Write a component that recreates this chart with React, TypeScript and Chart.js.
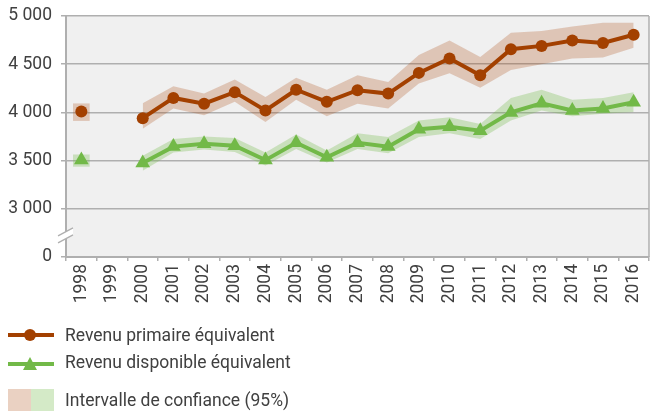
import React, { useEffect, useRef } from "react";
import { Chart, registerables } from "chart.js";

Chart.register(...registerables);

const years = ["1998", "1999", "2000", "2001", "2002", "2003", "2004", "2005", "2006", "2007", "2008", "2009", "2010", "2011", "2012", "2013", "2014", "2015", "2016"];
const primary = [4010, null, 3940, 4150, 4090, 4210, 4020, 4235, 4110, 4230, 4195, 4410, 4560, 4385, 4655, 4690, 4745, 4720, 4805];
const primaryHigh = [4090, null, 4095, 4270, 4195, 4340, 4160, 4360, 4235, 4385, 4315, 4595, 4745, 4575, 4825, 4845, 4890, 4930, 4930];
const primaryLow = [3915, null, 3830, 4040, 3970, 4110, 3900, 4130, 3960, 4090, 4040, 4300, 4405, 4255, 4440, 4500, 4560, 4570, 4670];
const disposable = [3505, null, 3475, 3645, 3675, 3655, 3505, 3685, 3535, 3685, 3645, 3825, 3850, 3810, 4000, 4095, 4020, 4040, 4105];
const disposableHigh = [3560, null, 3550, 3725, 3750, 3735, 3585, 3770, 3605, 3785, 3745, 3915, 3950, 3880, 4150, 4235, 4130, 4150, 4210];
const disposableLow = [3440, null, 3395, 3585, 3615, 3590, 3450, 3620, 3480, 3620, 3575, 3745, 3785, 3725, 3915, 4020, 3960, 3985, 4005];
const yTicks = [2500, 3000, 3500, 4000, 4500, 5000];
const yTickLabels = ["0", "3 000", "3 500", "4 000", "4 500", "5 000"];

const legendLabels = ["Revenu primaire équivalent", "Revenu disponible équivalent", "Intervalle de confiance (95%)"];

const BROWN = "#a34000";
const GREEN = "#72b948";
const BROWN_BAND = "rgba(166,61,0,0.24)";
const GREEN_BAND = "rgba(112,184,70,0.30)";
const TEXT = "#404040";
const GRID = "#afafaf";
const FONT = "Roboto, 'Noto Sans', sans-serif";
const FS = 17.5;

type V = number | null;
const isolated = (arr: V[], i: number) =>
  arr[i] != null && (i === 0 || arr[i - 1] == null) && (i === arr.length - 1 || arr[i + 1] == null);
const bandLine = (arr: V[], ref: V[]) => arr.map((v, i) => (isolated(ref, i) ? null : v));
const bandBar = (lo: V[], hi: V[]) => lo.map((v, i) => (isolated(lo, i) && v != null && hi[i] != null ? [v, hi[i] as number] : null));

const backgroundPlugin = {
  id: "bgPlugin",
  beforeDraw(chart: any) {
    const { ctx, chartArea } = chart;
    ctx.save();
    ctx.fillStyle = "#f0f0f0";
    ctx.fillRect(chartArea.left, chartArea.top, chartArea.right - chartArea.left, chartArea.bottom - chartArea.top);
    ctx.restore();
  },
  afterDraw(chart: any) {
    const { ctx, chartArea } = chart;
    ctx.save();
    ctx.strokeStyle = GRID;
    ctx.lineWidth = 1.5;
    ctx.beginPath();
    ctx.moveTo(chartArea.right, chartArea.top);
    ctx.lineTo(chartArea.right, chartArea.bottom);
    ctx.stroke();
    // axis break mark
    const y = chart.scales.y;
    const yMid = (y.getPixelForValue(2500) + y.getPixelForValue(3000)) / 2;
    const x = chartArea.left;
    ctx.fillStyle = "#ffffff";
    ctx.beginPath();
    ctx.moveTo(x - 8, yMid + 3);
    ctx.lineTo(x + 7, yMid - 5);
    ctx.lineTo(x + 7, yMid + 2);
    ctx.lineTo(x - 8, yMid + 10);
    ctx.closePath();
    ctx.fill();
    ctx.strokeStyle = GRID;
    ctx.lineWidth = 1.3;
    ctx.beginPath();
    ctx.moveTo(x - 8, yMid + 3);
    ctx.lineTo(x + 7, yMid - 5);
    ctx.moveTo(x - 8, yMid + 10);
    ctx.lineTo(x + 7, yMid + 2);
    ctx.stroke();
    ctx.restore();
  },
};

export default function App() {
  const ref = useRef<HTMLCanvasElement | null>(null);
  useEffect(() => {
    if (!ref.current) return;
    const chart = new Chart(ref.current, {
      type: "line",
      data: {
        labels: years,
        datasets: [
          {
            type: "line",
            label: legendLabels[0],
            data: primary,
            borderColor: BROWN,
            backgroundColor: BROWN,
            borderWidth: 4,
            pointRadius: 6,
            pointStyle: "circle",
            pointBorderWidth: 0,
            spanGaps: false,
            fill: false,
            order: 0,
          },
          {
            type: "line",
            label: legendLabels[1],
            data: disposable,
            borderColor: GREEN,
            backgroundColor: GREEN,
            borderWidth: 4,
            pointRadius: 8.5,
            pointStyle: "triangle",
            pointBorderWidth: 0,
            spanGaps: false,
            fill: false,
            order: 1,
          },
          {
            type: "line",
            data: bandLine(primaryHigh, primaryHigh),
            borderWidth: 0,
            pointRadius: 0,
            backgroundColor: BROWN_BAND,
            fill: "+1",
            spanGaps: false,
            order: 10,
          },
          {
            type: "line",
            data: bandLine(primaryLow, primaryLow),
            borderWidth: 0,
            pointRadius: 0,
            fill: false,
            spanGaps: false,
            order: 11,
          },
          {
            type: "line",
            data: bandLine(disposableHigh, disposableHigh),
            borderWidth: 0,
            pointRadius: 0,
            backgroundColor: GREEN_BAND,
            fill: "+1",
            spanGaps: false,
            order: 12,
          },
          {
            type: "line",
            data: bandLine(disposableLow, disposableLow),
            borderWidth: 0,
            pointRadius: 0,
            fill: false,
            spanGaps: false,
            order: 13,
          },
          {
            type: "bar",
            data: bandBar(primaryLow, primaryHigh) as any,
            backgroundColor: BROWN_BAND,
            barThickness: 16,
            grouped: false,
            order: 14,
          },
          {
            type: "bar",
            data: bandBar(disposableLow, disposableHigh) as any,
            backgroundColor: GREEN_BAND,
            barThickness: 16,
            grouped: false,
            order: 15,
          },
        ] as any,
      },
      options: {
        animation: false,
        responsive: false,
        maintainAspectRatio: false,
        layout: { autoPadding: false, padding: { top: 16, right: 1, bottom: 94, left: 0 } },
        plugins: { legend: { display: false }, tooltip: { enabled: false } },
        scales: {
          x: {
            type: "category",
            offset: true,
            grid: { display: true, drawOnChartArea: false, drawTicks: true, tickLength: 4, color: GRID, lineWidth: 1.5, offset: true },
            border: { display: true, color: GRID, width: 2 },
            ticks: { color: TEXT, font: { family: FONT, size: FS }, minRotation: 90, maxRotation: 90, padding: 3, autoSkip: false },
            afterFit: (s: any) => {
              s.height = 60;
              s.paddingLeft = 0;
              s.paddingRight = 0;
            },
          },
          y: {
            type: "linear",
            min: 2500,
            max: 5000,
            afterBuildTicks: (s: any) => {
              s.ticks = yTicks.map((v) => ({ value: v }));
            },
            grid: { color: GRID, lineWidth: 1.5, tickLength: 5, drawTicks: true },
            border: { display: true, color: GRID, width: 2 },
            ticks: {
              color: TEXT,
              font: { family: FONT, size: FS },
              padding: 9,
              callback: (v: any) => {
                const i = yTicks.indexOf(Number(v));
                return i >= 0 ? yTickLabels[i] : "";
              },
            },
            afterFit: (s: any) => {
              s.width = 66;
              s.paddingTop = 0;
              s.paddingBottom = 0;
            },
          },
        },
      } as any,
      plugins: [backgroundPlugin],
    });
    return () => chart.destroy();
  }, []);

  const textStyle: React.CSSProperties = {
    position: "absolute",
    left: 65,
    fontFamily: FONT,
    fontSize: FS,
    color: TEXT,
    lineHeight: "20px",
    whiteSpace: "nowrap",
  };
  return (
    <div style={{ position: "absolute", left: 0, top: 0, width: 650, height: 411, background: "#fff", overflow: "hidden" }}>
      <canvas ref={ref} width={650} height={411} style={{ position: "absolute", left: 0, top: 0, width: 650, height: 411 }} />
      {/* legend item 1 */}
      <div style={{ position: "absolute", left: 8, top: 333, width: 46, height: 4, background: BROWN }} />
      <div style={{ position: "absolute", left: 24, top: 329, width: 12, height: 12, borderRadius: 6, background: BROWN }} />
      <div style={{ ...textStyle, top: 325 }}>{legendLabels[0]}</div>
      {/* legend item 2 */}
      <div style={{ position: "absolute", left: 8, top: 362, width: 46, height: 4, background: GREEN }} />
      <div
        style={{
          position: "absolute",
          left: 22.5,
          top: 357,
          width: 0,
          height: 0,
          borderLeft: "7.5px solid transparent",
          borderRight: "7.5px solid transparent",
          borderBottom: "13px solid " + GREEN,
        }}
      />
      <div style={{ ...textStyle, top: 352 }}>{legendLabels[1]}</div>
      {/* legend item 3 */}
      <div style={{ position: "absolute", left: 8, top: 389, width: 23, height: 22, background: BROWN_BAND }} />
      <div style={{ position: "absolute", left: 31, top: 389, width: 23, height: 22, background: GREEN_BAND }} />
      <div style={{ ...textStyle, top: 390 }}>{legendLabels[2]}</div>
    </div>
  );
}
